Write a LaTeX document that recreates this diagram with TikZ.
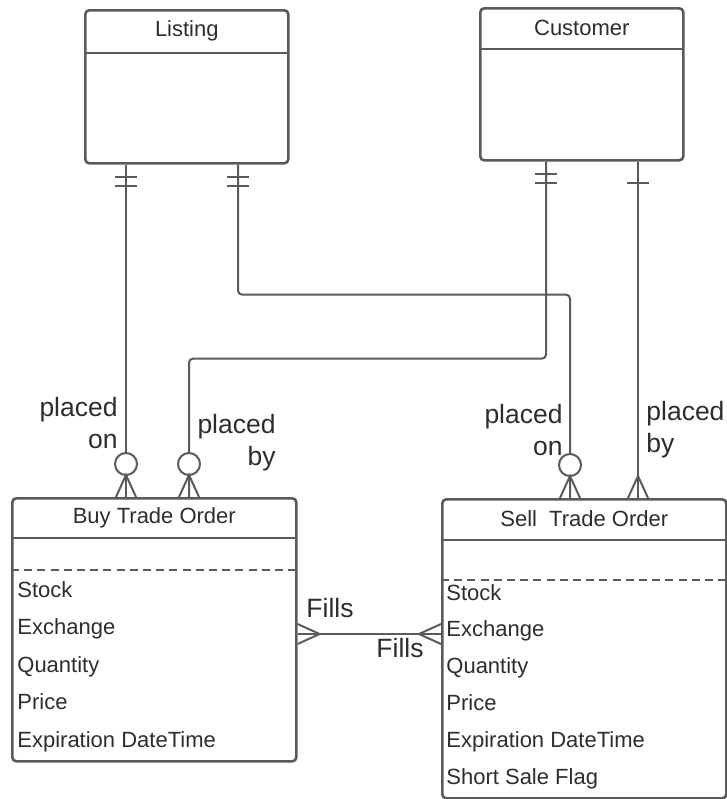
\documentclass[tikz,border=0pt]{standalone}
\usepackage{fontspec}
\setmainfont{Liberation Sans}
\usetikzlibrary{calc}
\definecolor{LineGray}{RGB}{90,90,90}
\definecolor{InkGray}{RGB}{45,45,45}

\begin{document}
\begin{tikzpicture}[
    x=0.5pt, y=-0.5pt,
    entity/.style={rectangle, draw=LineGray, line width=1.3pt, rounded corners=2pt, anchor=north west, inner sep=0pt},
    head/.style={anchor=north, inner sep=0pt, text=InkGray, font=\fontsize{11}{12}\selectfont},
    attr/.style={anchor=base west, inner sep=0pt, text=InkGray, font=\fontsize{11}{12}\selectfont},
    role/.style={inner sep=0pt, text=InkGray, font=\fontsize{13.25}{16}\selectfont},
    rel/.style={draw=LineGray, line width=1pt, rounded corners=2pt},
    foot/.style={draw=LineGray, line width=1pt},
    sep/.style={draw=LineGray, line width=1.2pt},
    dashsep/.style={draw=LineGray, line width=0.8pt, dash pattern=on 4pt off 2.6pt},
    crowfoot/.pic={\draw[foot] (-10,0) -- (0,-22) -- (10,0);},
    ring/.pic={\draw[foot, fill=white] (0,-33) circle[radius=5.5pt];},
    twobar/.pic={\draw[foot] (-11,12) -- (11,12) (-11,21) -- (11,21);},
    onebar/.pic={\draw[foot] (-11,21) -- (11,21);}
]
    \useasboundingbox (0,0) rectangle (727,799);

    % Entities
    \node[entity, minimum width=101.5pt, minimum height=76.5pt] (listing) at (84,9) {};
    \node[head, minimum width=101.5pt, minimum height=21.5pt] (listingH) at (listing.north) {Listing};
    \draw[sep] (listingH.south west) -- (listingH.south east);

    \node[entity, minimum width=101.5pt, minimum height=76pt] (customer) at (479,7) {};
    \node[head, minimum width=101.5pt, minimum height=20.5pt] (customerH) at (customer.north) {Customer};
    \draw[sep] (customerH.south west) -- (customerH.south east);

    \node[entity, minimum width=142pt, minimum height=131.5pt] (buy) at (11,497) {};
    \node[head, minimum width=142pt, minimum height=20pt] (buyH) at (buy.north) {Buy Trade Order};
    \draw[sep] (buyH.south west) -- (buyH.south east);
    \draw[dashsep] ($(buy.north west)+(0,73)$) -- ($(buy.north east)+(0,73)$);
    \foreach \txt [count=\i] in {Stock, Exchange, Quantity, Price, Expiration DateTime}
        \node[attr] (buyA\i) at ($(buy.north west)+(6,100+37.5*\i-37.5)$) {\txt};

    \node[entity, minimum width=142pt, minimum height=149.5pt] (sell) at (441,498) {};
    \node[head, minimum width=142pt, minimum height=20.5pt] (sellH) at (sell.north) {Sell~ Trade Order};
    \draw[sep] (sellH.south west) -- (sellH.south east);
    \draw[dashsep] ($(sell.north west)+(0,82)$) -- ($(sell.north east)+(0,82)$);
    \foreach \txt [count=\i] in {Stock, Exchange, Quantity, Price, Expiration DateTime, Short Sale Flag}
        \node[attr] (sellA\i) at ($(sell.north west)+(5,102+36.8*\i-36.8)$) {\txt};

    % Ports
    \coordinate (listBuy) at ($(listing.south west)+(42,0)$);
    \coordinate (listSell) at ($(listing.south west)+(154,0)$);
    \coordinate (custBuy) at ($(customer.south west)+(67,0)$);
    \coordinate (custSell) at ($(customer.south west)+(159,0)$);
    \coordinate (sellList) at ($(sell.north west)+(129,0)$);
    \coordinate (buyCust) at ($(buy.north west)+(178,0)$);
    \coordinate (buyFill) at ($(buy.north east)+(0,137)$);

    % Relationships
    \draw[rel] (listBuy) -- (listBuy |- buy.north);
    \draw[rel] (listSell) -- ++(0,130) -| (sellList);
    \draw[rel] (custBuy) -- ++(0,197) -| (buyCust);
    \draw[rel] (custSell) -- (custSell |- sell.north);
    \draw[rel] (buyFill) -- (buyFill -| sell.west);

    % Cardinalities
    \pic at (listBuy) {twobar};
    \pic at (listSell) {twobar};
    \pic at (custBuy) {twobar};
    \pic at (custSell) {onebar};
    \pic at (listBuy |- buy.north) {ring};
    \pic at (listBuy |- buy.north) {crowfoot};
    \pic at (buyCust) {ring};
    \pic at (buyCust) {crowfoot};
    \pic at (sellList) {ring};
    \pic at (sellList) {crowfoot};
    \pic at (custSell |- sell.north) {crowfoot};
    \pic[rotate=-90] at (buyFill) {crowfoot};
    \pic[rotate=90] at (buyFill -| sell.west) {crowfoot};

    % Labels
    \node[role, align=right, anchor=east] (buyOnLbl) at (118,423) {placed\\on};
    \node[role, align=right, anchor=east] (buyByLbl) at (276,443) {placed\\by};
    \node[role, align=right, anchor=east] (sellOnLbl) at (563,430) {placed\\on};
    \node[role, align=left, anchor=west] (sellByLbl) at (646,430) {placed\\by};
    \node[role, anchor=base] (fillTopLbl) at (330,617) {Fills};
    \node[role, anchor=base] (fillBotLbl) at (400,657) {Fills};
\end{tikzpicture}
\end{document}
